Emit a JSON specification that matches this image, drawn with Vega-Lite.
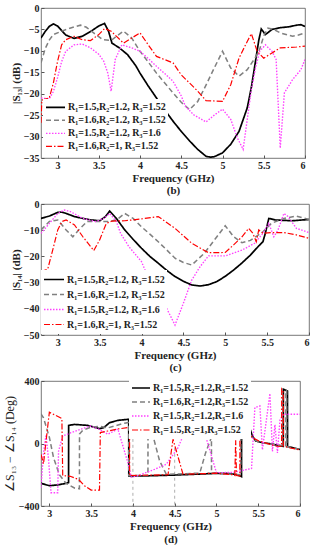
{
"$schema":"https://vega.github.io/schema/vega-lite/v6.json",
"padding":{"top":2,"left":2,"right":2,"bottom":0},
"spacing":2,
"config":{"font":"Liberation Serif","view":{"stroke":"#555","strokeWidth":0.8},
 "axis":{"grid":false,"domain":false,"labelFont":"Liberation Serif","labelFontWeight":"bold","labelFontSize":10,"labelColor":"#222","titleFont":"Liberation Serif","titleFontWeight":"bold","titleFontSize":11,"titleColor":"#222","tickColor":"#555","tickSize":-3,"labelPadding":5,"titlePadding":2},
 "legend":{"labelFont":"Liberation Serif","labelFontWeight":"bold","labelFontSize":10,"labelColor":"#222","symbolType":"stroke","symbolSize":361,"symbolStrokeWidth":1.5,"fillColor":"white","padding":2,"rowPadding":0,"labelOffset":2,"title":null,"orient":"none"}},
"datasets":{
"b":[
{"s":"a","f":2.8,"v":-7},{"s":"a","f":2.85,"v":-5.5},{"s":"a","f":2.9,"v":-4.3},{"s":"a","f":2.95,"v":-3.7},{"s":"a","f":3.0,"v":-4.2},{"s":"a","f":3.1,"v":-6.3},{"s":"a","f":3.2,"v":-7.1},{"s":"a","f":3.3,"v":-6.6},{"s":"a","f":3.4,"v":-5.5},{"s":"a","f":3.5,"v":-4.2},{"s":"a","f":3.57,"v":-3.6},{"s":"a","f":3.62,"v":-5.5},{"s":"a","f":3.66,"v":-8.2},{"s":"a","f":3.75,"v":-9.3},{"s":"a","f":3.85,"v":-10.9},{"s":"a","f":3.95,"v":-13.5},{"s":"a","f":4.0,"v":-15.2},{"s":"a","f":4.1,"v":-18.2},{"s":"a","f":4.2,"v":-21},{"s":"a","f":4.3,"v":-23.8},{"s":"a","f":4.4,"v":-26.4},{"s":"a","f":4.5,"v":-28.8},{"s":"a","f":4.6,"v":-31},{"s":"a","f":4.7,"v":-33},{"s":"a","f":4.8,"v":-34.6},{"s":"a","f":4.85,"v":-34.8},{"s":"a","f":4.9,"v":-34.7},{"s":"a","f":5.0,"v":-33.8},{"s":"a","f":5.1,"v":-31.8},{"s":"a","f":5.2,"v":-28.8},{"s":"a","f":5.3,"v":-23.3},{"s":"a","f":5.35,"v":-18.5},{"s":"a","f":5.4,"v":-12.4},{"s":"a","f":5.44,"v":-7.5},{"s":"a","f":5.47,"v":-4.9},{"s":"a","f":5.52,"v":-6.2},{"s":"a","f":5.6,"v":-5},{"s":"a","f":5.7,"v":-4.6},{"s":"a","f":5.8,"v":-4.4},{"s":"a","f":5.9,"v":-4.0},{"s":"a","f":5.95,"v":-3.9},{"s":"a","f":6.0,"v":-4.3},
{"s":"b","f":2.8,"v":-12.8},{"s":"b","f":2.85,"v":-9.5},{"s":"b","f":2.9,"v":-7.5},{"s":"b","f":2.95,"v":-6.2},{"s":"b","f":3.05,"v":-5.4},{"s":"b","f":3.15,"v":-4.7},{"s":"b","f":3.28,"v":-4},{"s":"b","f":3.35,"v":-4.5},{"s":"b","f":3.45,"v":-6},{"s":"b","f":3.55,"v":-7.4},{"s":"b","f":3.65,"v":-7.6},{"s":"b","f":3.72,"v":-6.5},{"s":"b","f":3.8,"v":-5.4},{"s":"b","f":3.9,"v":-7},{"s":"b","f":4.0,"v":-10.1},{"s":"b","f":4.1,"v":-12.6},{"s":"b","f":4.2,"v":-15.2},{"s":"b","f":4.3,"v":-17.5},{"s":"b","f":4.4,"v":-19.8},{"s":"b","f":4.5,"v":-22},{"s":"b","f":4.6,"v":-23.7},{"s":"b","f":4.7,"v":-21.8},{"s":"b","f":4.8,"v":-18},{"s":"b","f":4.9,"v":-14},{"s":"b","f":5.0,"v":-10.1},{"s":"b","f":5.1,"v":-14},{"s":"b","f":5.2,"v":-15.9},{"s":"b","f":5.3,"v":-14.4},{"s":"b","f":5.4,"v":-11.5},{"s":"b","f":5.45,"v":-9.7},{"s":"b","f":5.5,"v":-6.5},{"s":"b","f":5.55,"v":-4.7},{"s":"b","f":5.62,"v":-5},{"s":"b","f":5.7,"v":-5.8},{"s":"b","f":5.85,"v":-6.6},{"s":"b","f":5.92,"v":-6.3},{"s":"b","f":6.0,"v":-5.8},
{"s":"c","f":2.8,"v":-21},{"s":"c","f":2.9,"v":-21.2},{"s":"c","f":2.95,"v":-19.5},{"s":"c","f":3.0,"v":-16.3},{"s":"c","f":3.05,"v":-12.5},{"s":"c","f":3.1,"v":-10.1},{"s":"c","f":3.2,"v":-8.6},{"s":"c","f":3.3,"v":-8.4},{"s":"c","f":3.4,"v":-9.3},{"s":"c","f":3.5,"v":-10.8},{"s":"c","f":3.56,"v":-12.4},{"s":"c","f":3.61,"v":-15.2},{"s":"c","f":3.65,"v":-19.4},{"s":"c","f":3.7,"v":-12},{"s":"c","f":3.78,"v":-8.6},{"s":"c","f":3.9,"v":-9.3},{"s":"c","f":4.0,"v":-10.1},{"s":"c","f":4.1,"v":-11.8},{"s":"c","f":4.2,"v":-13.6},{"s":"c","f":4.3,"v":-15.3},{"s":"c","f":4.4,"v":-17.1},{"s":"c","f":4.5,"v":-20.5},{"s":"c","f":4.55,"v":-22.9},{"s":"c","f":4.65,"v":-24.9},{"s":"c","f":4.8,"v":-26.6},{"s":"c","f":4.9,"v":-25},{"s":"c","f":5.0,"v":-23.6},{"s":"c","f":5.1,"v":-26},{"s":"c","f":5.18,"v":-30.3},{"s":"c","f":5.25,"v":-33},{"s":"c","f":5.3,"v":-26},{"s":"c","f":5.35,"v":-19},{"s":"c","f":5.4,"v":-14},{"s":"c","f":5.45,"v":-10.1},{"s":"c","f":5.52,"v":-8.6},{"s":"c","f":5.6,"v":-10.1},{"s":"c","f":5.65,"v":-12},{"s":"c","f":5.7,"v":-32.7},{"s":"c","f":5.75,"v":-19.8},{"s":"c","f":5.85,"v":-16.7},{"s":"c","f":5.95,"v":-14.4},{"s":"c","f":6.0,"v":-12},
{"s":"d","f":2.8,"v":-26.8},{"s":"d","f":2.81,"v":-21.5},{"s":"d","f":2.9,"v":-21},{"s":"d","f":2.95,"v":-17.5},{"s":"d","f":3.0,"v":-12.5},{"s":"d","f":3.05,"v":-8.6},{"s":"d","f":3.1,"v":-7.4},{"s":"d","f":3.2,"v":-6.6},{"s":"d","f":3.3,"v":-7.4},{"s":"d","f":3.4,"v":-7.6},{"s":"d","f":3.5,"v":-6.2},{"s":"d","f":3.57,"v":-4.8},{"s":"d","f":3.65,"v":-5.4},{"s":"d","f":3.8,"v":-8.2},{"s":"d","f":3.9,"v":-7},{"s":"d","f":4.0,"v":-5.8},{"s":"d","f":4.1,"v":-8.6},{"s":"d","f":4.2,"v":-11.3},{"s":"d","f":4.4,"v":-12.8},{"s":"d","f":4.5,"v":-15.6},{"s":"d","f":4.7,"v":-19.4},{"s":"d","f":4.8,"v":-21.6},{"s":"d","f":5.0,"v":-21.8},{"s":"d","f":5.1,"v":-17.9},{"s":"d","f":5.2,"v":-11.7},{"s":"d","f":5.3,"v":-7.8},{"s":"d","f":5.35,"v":-6},{"s":"d","f":5.42,"v":-10.1},{"s":"d","f":5.5,"v":-11.7},{"s":"d","f":5.6,"v":-10.5},{"s":"d","f":5.7,"v":-9.3},{"s":"d","f":5.9,"v":-9.1},{"s":"d","f":6.0,"v":-8.9}
],
"c":[
{"s":"a","f":2.8,"v":-5.5},{"s":"a","f":2.9,"v":-4.6},{"s":"a","f":3.0,"v":-3.2},{"s":"a","f":3.05,"v":-3.1},{"s":"a","f":3.1,"v":-3.6},{"s":"a","f":3.2,"v":-4.8},{"s":"a","f":3.3,"v":-5.5},{"s":"a","f":3.4,"v":-6.1},{"s":"a","f":3.5,"v":-6.4},{"s":"a","f":3.57,"v":-4.8},{"s":"a","f":3.62,"v":-2.7},{"s":"a","f":3.7,"v":-5.5},{"s":"a","f":3.8,"v":-9.9},{"s":"a","f":3.9,"v":-13.5},{"s":"a","f":4.0,"v":-16.9},{"s":"a","f":4.1,"v":-20},{"s":"a","f":4.2,"v":-22.6},{"s":"a","f":4.3,"v":-25.3},{"s":"a","f":4.4,"v":-27.7},{"s":"a","f":4.5,"v":-29.5},{"s":"a","f":4.6,"v":-30.9},{"s":"a","f":4.7,"v":-31.3},{"s":"a","f":4.8,"v":-30.8},{"s":"a","f":4.9,"v":-29.6},{"s":"a","f":5.0,"v":-27.6},{"s":"a","f":5.1,"v":-25.2},{"s":"a","f":5.2,"v":-22.5},{"s":"a","f":5.3,"v":-19.5},{"s":"a","f":5.4,"v":-16},{"s":"a","f":5.45,"v":-14.4},{"s":"a","f":5.48,"v":-11},{"s":"a","f":5.52,"v":-5.5},{"s":"a","f":5.6,"v":-6.1},{"s":"a","f":5.8,"v":-6.4},{"s":"a","f":6.0,"v":-5.9},
{"s":"b","f":2.8,"v":-9.9},{"s":"b","f":2.9,"v":-6.7},{"s":"b","f":3.0,"v":-6.1},{"s":"b","f":3.1,"v":-9.9},{"s":"b","f":3.18,"v":-12.5},{"s":"b","f":3.25,"v":-9.9},{"s":"b","f":3.35,"v":-6.7},{"s":"b","f":3.5,"v":-6.7},{"s":"b","f":3.6,"v":-6.7},{"s":"b","f":3.7,"v":-6.1},{"s":"b","f":3.8,"v":-3.6},{"s":"b","f":3.9,"v":-5.5},{"s":"b","f":4.0,"v":-8.7},{"s":"b","f":4.1,"v":-11.5},{"s":"b","f":4.2,"v":-14.4},{"s":"b","f":4.3,"v":-17.5},{"s":"b","f":4.4,"v":-20.7},{"s":"b","f":4.5,"v":-22.3},{"s":"b","f":4.6,"v":-23.3},{"s":"b","f":4.75,"v":-18.8},{"s":"b","f":4.9,"v":-12.5},{"s":"b","f":5.0,"v":-8.3},{"s":"b","f":5.1,"v":-12.5},{"s":"b","f":5.2,"v":-14.8},{"s":"b","f":5.3,"v":-13.9},{"s":"b","f":5.45,"v":-10.6},{"s":"b","f":5.55,"v":-7.4},{"s":"b","f":5.7,"v":-5.5},{"s":"b","f":5.85,"v":-4.6},{"s":"b","f":6.0,"v":-5.9},
{"s":"c","f":2.8,"v":-11.2},{"s":"c","f":2.9,"v":-7.4},{"s":"c","f":3.0,"v":-3.6},{"s":"c","f":3.08,"v":-2.3},{"s":"c","f":3.15,"v":-2.9},{"s":"c","f":3.3,"v":-5.5},{"s":"c","f":3.45,"v":-6.7},{"s":"c","f":3.55,"v":-5.5},{"s":"c","f":3.62,"v":-3.6},{"s":"c","f":3.7,"v":-6.7},{"s":"c","f":3.75,"v":-11.2},{"s":"c","f":3.85,"v":-16.3},{"s":"c","f":4.0,"v":-22},{"s":"c","f":4.05,"v":-25.8},{"s":"c","f":4.1,"v":-29},{"s":"c","f":4.2,"v":-33.5},{"s":"c","f":4.3,"v":-39.8},{"s":"c","f":4.4,"v":-46.2},{"s":"c","f":4.5,"v":-37.9},{"s":"c","f":4.6,"v":-29},{"s":"c","f":4.7,"v":-23.9},{"s":"c","f":4.8,"v":-19.8},{"s":"c","f":5.0,"v":-19.8},{"s":"c","f":5.2,"v":-17.6},{"s":"c","f":5.35,"v":-15},{"s":"c","f":5.45,"v":-11.2},{"s":"c","f":5.52,"v":-7.4},{"s":"c","f":5.58,"v":-12.5},{"s":"c","f":5.63,"v":-9.9},{"s":"c","f":5.7,"v":-3.6},{"s":"c","f":5.75,"v":-4.8},{"s":"c","f":5.85,"v":-9.3},{"s":"c","f":6.0,"v":-10.9},
{"s":"d","f":2.8,"v":-25.8},{"s":"d","f":2.88,"v":-24.9},{"s":"d","f":2.95,"v":-16.3},{"s":"d","f":3.0,"v":-9.9},{"s":"d","f":3.05,"v":-6.7},{"s":"d","f":3.1,"v":-6.1},{"s":"d","f":3.2,"v":-8},{"s":"d","f":3.3,"v":-12.5},{"s":"d","f":3.43,"v":-17.8},{"s":"d","f":3.5,"v":-13.7},{"s":"d","f":3.58,"v":-7.4},{"s":"d","f":3.65,"v":-6.5},{"s":"d","f":3.8,"v":-6.4},{"s":"d","f":4.0,"v":-5.7},{"s":"d","f":4.2,"v":-4.8},{"s":"d","f":4.4,"v":-9.3},{"s":"d","f":4.6,"v":-15},{"s":"d","f":4.8,"v":-18.6},{"s":"d","f":5.0,"v":-18.5},{"s":"d","f":5.1,"v":-15.6},{"s":"d","f":5.2,"v":-12.5},{"s":"d","f":5.28,"v":-9.3},{"s":"d","f":5.33,"v":-11.2},{"s":"d","f":5.37,"v":-14.4},{"s":"d","f":5.4,"v":-9.9},{"s":"d","f":5.45,"v":-11.2},{"s":"d","f":5.55,"v":-10.9},{"s":"d","f":5.7,"v":-10.9},{"s":"d","f":5.85,"v":-11.8},{"s":"d","f":6.0,"v":-13.1}
],
"d":[
{"s":"a","f":2.9,"v":-255},{"s":"a","f":3.0,"v":-270},{"s":"a","f":3.1,"v":-265},{"s":"a","f":3.2,"v":-255},{"s":"a","f":3.23,"v":-250},{"s":"a","f":3.231,"v":116},{"s":"a","f":3.3,"v":122},{"s":"a","f":3.46,"v":116},{"s":"a","f":3.6,"v":95},{"s":"a","f":3.65,"v":101},{"s":"a","f":3.72,"v":133},{"s":"a","f":3.82,"v":148},{"s":"a","f":3.95,"v":155},{"s":"a","f":3.951,"v":-208},{"s":"a","f":4.1,"v":-208},{"s":"a","f":4.5,"v":-202},{"s":"a","f":5.0,"v":-191},{"s":"a","f":5.15,"v":-192},{"s":"a","f":5.25,"v":-200},{"s":"a","f":5.3,"v":-212},{"s":"a","f":5.301,"v":133},{"s":"a","f":5.35,"v":125},{"s":"a","f":5.39,"v":112},{"s":"a","f":5.43,"v":48},{"s":"a","f":5.47,"v":16},{"s":"a","f":5.55,"v":5},{"s":"a","f":5.65,"v":-2},{"s":"a","f":5.77,"v":-16},{"s":"a","f":5.8,"v":-18},{"s":"a","f":5.801,"v":347},{"s":"a","f":5.85,"v":336},{"s":"a","f":5.851,"v":-20},{"s":"a","f":5.9,"v":-25},{"s":"a","f":6.0,"v":-38},
{"s":"b","f":2.9,"v":190},{"s":"b","f":2.93,"v":165},{"s":"b","f":3.0,"v":40},{"s":"b","f":3.05,"v":-90},{"s":"b","f":3.12,"v":-200},{"s":"b","f":3.2,"v":-255},{"s":"b","f":3.3,"v":-285},{"s":"b","f":3.36,"v":-290},{"s":"b","f":3.361,"v":60},{"s":"b","f":3.4,"v":85},{"s":"b","f":3.5,"v":105},{"s":"b","f":3.6,"v":110},{"s":"b","f":3.7,"v":100},{"s":"b","f":3.8,"v":115},{"s":"b","f":3.9,"v":130},{"s":"b","f":3.95,"v":135},{"s":"b","f":3.951,"v":-205},{"s":"b","f":4.18,"v":-205},{"s":"b","f":4.181,"v":120},{"s":"b","f":4.25,"v":30},{"s":"b","f":4.32,"v":-112},{"s":"b","f":4.4,"v":-197},{"s":"b","f":4.8,"v":-190},{"s":"b","f":4.87,"v":-60},{"s":"b","f":4.94,"v":40},{"s":"b","f":4.941,"v":-190},{"s":"b","f":5.28,"v":-200},{"s":"b","f":5.29,"v":-205},{"s":"b","f":5.291,"v":130},{"s":"b","f":5.35,"v":110},{"s":"b","f":5.43,"v":35},{"s":"b","f":5.5,"v":10},{"s":"b","f":5.6,"v":0},{"s":"b","f":5.7,"v":-8},{"s":"b","f":5.8,"v":-15},{"s":"b","f":5.83,"v":-18},{"s":"b","f":5.831,"v":340},{"s":"b","f":5.84,"v":335},{"s":"b","f":5.841,"v":-20},{"s":"b","f":6.0,"v":-38},
{"s":"c","f":2.9,"v":-283},{"s":"c","f":2.93,"v":-60},{"s":"c","f":2.96,"v":56},{"s":"c","f":2.99,"v":-100},{"s":"c","f":3.02,"v":-315},{"s":"c","f":3.1,"v":-315},{"s":"c","f":3.11,"v":-50},{"s":"c","f":3.16,"v":48},{"s":"c","f":3.26,"v":69},{"s":"c","f":3.37,"v":90},{"s":"c","f":3.49,"v":112},{"s":"c","f":3.6,"v":90},{"s":"c","f":3.7,"v":59},{"s":"c","f":3.82,"v":93},{"s":"c","f":3.94,"v":-123},{"s":"c","f":3.98,"v":-215},{"s":"c","f":4.05,"v":-208},{"s":"c","f":4.26,"v":-165},{"s":"c","f":4.4,"v":-133},{"s":"c","f":4.54,"v":-27},{"s":"c","f":4.6,"v":48},{"s":"c","f":4.65,"v":120},{"s":"c","f":4.8,"v":130},{"s":"c","f":4.88,"v":30},{"s":"c","f":5.0,"v":-187},{"s":"c","f":5.2,"v":-185},{"s":"c","f":5.42,"v":-160},{"s":"c","f":5.46,"v":230},{"s":"c","f":5.52,"v":240},{"s":"c","f":5.55,"v":-40},{"s":"c","f":5.6,"v":160},{"s":"c","f":5.64,"v":320},{"s":"c","f":5.67,"v":-50},{"s":"c","f":5.7,"v":120},{"s":"c","f":5.73,"v":-60},{"s":"c","f":5.76,"v":150},{"s":"c","f":5.8,"v":187},{"s":"c","f":6.0,"v":187},
{"s":"d","f":2.9,"v":-70},{"s":"d","f":2.93,"v":-130},{"s":"d","f":2.97,"v":60},{"s":"d","f":3.0,"v":200},{"s":"d","f":3.15,"v":160},{"s":"d","f":3.16,"v":-205},{"s":"d","f":3.25,"v":-210},{"s":"d","f":3.35,"v":-230},{"s":"d","f":3.42,"v":-270},{"s":"d","f":3.5,"v":-298},{"s":"d","f":3.6,"v":-298},{"s":"d","f":3.61,"v":70},{"s":"d","f":3.7,"v":80},{"s":"d","f":3.82,"v":93},{"s":"d","f":3.96,"v":103},{"s":"d","f":3.961,"v":-205},{"s":"d","f":4.42,"v":-200},{"s":"d","f":4.48,"v":27},{"s":"d","f":4.6,"v":-197},{"s":"d","f":5.0,"v":-190},{"s":"d","f":5.2,"v":-200},{"s":"d","f":5.22,"v":-205},{"s":"d","f":5.23,"v":20},{"s":"d","f":5.24,"v":-205},{"s":"d","f":5.28,"v":-208},{"s":"d","f":5.281,"v":135},{"s":"d","f":5.35,"v":110},{"s":"d","f":5.43,"v":37},{"s":"d","f":5.51,"v":16},{"s":"d","f":5.71,"v":-16},{"s":"d","f":5.78,"v":-18},{"s":"d","f":5.781,"v":347},{"s":"d","f":5.8,"v":330},{"s":"d","f":5.801,"v":-16},{"s":"d","f":5.87,"v":-27},{"s":"d","f":6.0,"v":-41}
],
"r":[{"f":4.0,"v":30},{"f":4.5,"v":-27}]
},
"resolve":{"scale":{"x":"independent","y":"independent","color":"independent","strokeDash":"independent","strokeWidth":"independent"},"legend":{"color":"independent","strokeDash":"independent"}},
"vconcat":[
{"width":264,"height":150,"data":{"name":"b"},
 "mark":{"type":"line","clip":true},
 "encoding":{
  "x":{"field":"f","type":"quantitative","scale":{"domain":[2.8,6],"nice":false},"axis":{"values":[3,3.5,4,4.5,5,5.5,6],"format":".1~f","title":["Frequency (GHz)","(b)"],"titleLineHeight":12}},
  "y":{"field":"v","type":"quantitative","scale":{"domain":[-35,0],"nice":false},"axis":{"values":[-35,-30,-25,-20,-15,-10,-5,0],"title":"|S\u2081\u2083| (dB)"}},
  "color":{"field":"s","type":"nominal","scale":{"domain":["a","b","c","d"],"range":["#000000","#808080","#ff40ff","#ff0000"]},"legend":{"legendX":2,"legendY":91,"clipHeight":12.7,"labelExpr":"datum.label=='a'?'R\u2081=1.5,R\u2082=1.2, R\u2083=1.52':datum.label=='b'?'R\u2081=1.6,R\u2082=1.2, R\u2083=1.52':datum.label=='c'?'R\u2081=1.5,R\u2082=1.2, R\u2083=1.6':'R\u2081=1.6,R\u2082=1, R\u2083=1.52'"}},
  "strokeDash":{"field":"s","type":"nominal","scale":{"domain":["a","b","c","d"],"range":[[1,0],[5,3],[1.5,1.5],[6,2,1.5,2]]},"legend":{"legendX":2,"legendY":91,"clipHeight":12.7,"labelExpr":"datum.label=='a'?'R\u2081=1.5,R\u2082=1.2, R\u2083=1.52':datum.label=='b'?'R\u2081=1.6,R\u2082=1.2, R\u2083=1.52':datum.label=='c'?'R\u2081=1.5,R\u2082=1.2, R\u2083=1.6':'R\u2081=1.6,R\u2082=1, R\u2083=1.52'"}},
  "strokeWidth":{"field":"s","type":"nominal","scale":{"domain":["a","b","c","d"],"range":[1.7,1.2,1.5,1.5]},"legend":null}
 }},
{"width":268,"height":131,"data":{"name":"c"},
 "mark":{"type":"line","clip":true},
 "encoding":{
  "x":{"field":"f","type":"quantitative","scale":{"domain":[2.8,6],"nice":false},"axis":{"values":[3,3.5,4,4.5,5,5.5,6],"format":".1~f","title":["Frequency (GHz)","(c)"],"titleLineHeight":12}},
  "y":{"field":"v","type":"quantitative","scale":{"domain":[-50,0],"nice":false},"axis":{"values":[-50,-40,-30,-20,-10,0],"title":"|S\u2081\u2084| (dB)"}},
  "color":{"field":"s","type":"nominal","scale":{"domain":["a","b","c","d"],"range":["#000000","#808080","#ff40ff","#ff0000"]},"legend":{"legendX":0,"legendY":66,"clipHeight":15,"symbolSize":400,"labelExpr":"datum.label=='a'?'R\u2081=1.5,R\u2082=1.2, R\u2083=1.52':datum.label=='b'?'R\u2081=1.6,R\u2082=1.2, R\u2083=1.52':datum.label=='c'?'R\u2081=1.5,R\u2082=1.2, R\u2083=1.6':'R\u2081=1.6,R\u2082=1, R\u2083=1.52'"}},
  "strokeDash":{"field":"s","type":"nominal","scale":{"domain":["a","b","c","d"],"range":[[1,0],[5,3],[1.5,1.5],[6,2,1.5,2]]},"legend":{"legendX":0,"legendY":66,"clipHeight":15,"symbolSize":400,"labelExpr":"datum.label=='a'?'R\u2081=1.5,R\u2082=1.2, R\u2083=1.52':datum.label=='b'?'R\u2081=1.6,R\u2082=1.2, R\u2083=1.52':datum.label=='c'?'R\u2081=1.5,R\u2082=1.2, R\u2083=1.6':'R\u2081=1.6,R\u2082=1, R\u2083=1.52'"}},
  "strokeWidth":{"field":"s","type":"nominal","scale":{"domain":["a","b","c","d"],"range":[1.7,1.2,1.5,1.5]},"legend":null}
 }},
{"width":259,"height":125,
 "layer":[
 {"data":{"name":"r"},"mark":{"type":"rule","strokeDash":[3,3],"color":"#999","strokeWidth":0.8},
  "encoding":{"x":{"field":"f","type":"quantitative","scale":{"domain":[2.9,6],"nice":false}},"y":{"field":"v","type":"quantitative","scale":{"domain":[-400,400],"nice":false}},"y2":{"datum":-400}}},
 {"data":{"name":"d"},"mark":{"type":"line","clip":true},
 "encoding":{
  "x":{"field":"f","type":"quantitative","scale":{"domain":[2.9,6],"nice":false},"axis":{"values":[3,3.5,4,4.5,5,5.5,6],"format":".1~f","title":["Frequency (GHz)","(d)"],"titleLineHeight":13}},
  "y":{"field":"v","type":"quantitative","scale":{"domain":[-400,400],"nice":false},"axis":{"values":[-400,-200,0,200,400],"title":"\u2220S\u2081\u2083 \u2212 \u2220S\u2081\u2084 (Deg)","titleFontWeight":"normal","titleFontSize":12}},
  "color":{"field":"s","type":"nominal","scale":{"domain":["a","b","c","d"],"range":["#000000","#808080","#ff40ff","#ff0000"]},"legend":{"legendX":88,"legendY":-2,"clipHeight":14,"symbolSize":324,"labelExpr":"datum.label=='a'?'R\u2081=1.5,R\u2082=1.2,R\u2083=1.52':datum.label=='b'?'R\u2081=1.6,R\u2082=1.2,R\u2083=1.52':datum.label=='c'?'R\u2081=1.5,R\u2082=1.2,R\u2083=1.6':'R\u2081=1.5,R\u2082=1,R\u2083=1.52'"}},
  "strokeDash":{"field":"s","type":"nominal","scale":{"domain":["a","b","c","d"],"range":[[1,0],[5,3],[1.5,1.5],[6,2,1.5,2]]},"legend":{"legendX":88,"legendY":-2,"clipHeight":14,"symbolSize":324,"labelExpr":"datum.label=='a'?'R\u2081=1.5,R\u2082=1.2,R\u2083=1.52':datum.label=='b'?'R\u2081=1.6,R\u2082=1.2,R\u2083=1.52':datum.label=='c'?'R\u2081=1.5,R\u2082=1.2,R\u2083=1.6':'R\u2081=1.5,R\u2082=1,R\u2083=1.52'"}},
  "strokeWidth":{"field":"s","type":"nominal","scale":{"domain":["a","b","c","d"],"range":[1.7,1.2,1.5,1.5]},"legend":null}
 }}]}
]
}
